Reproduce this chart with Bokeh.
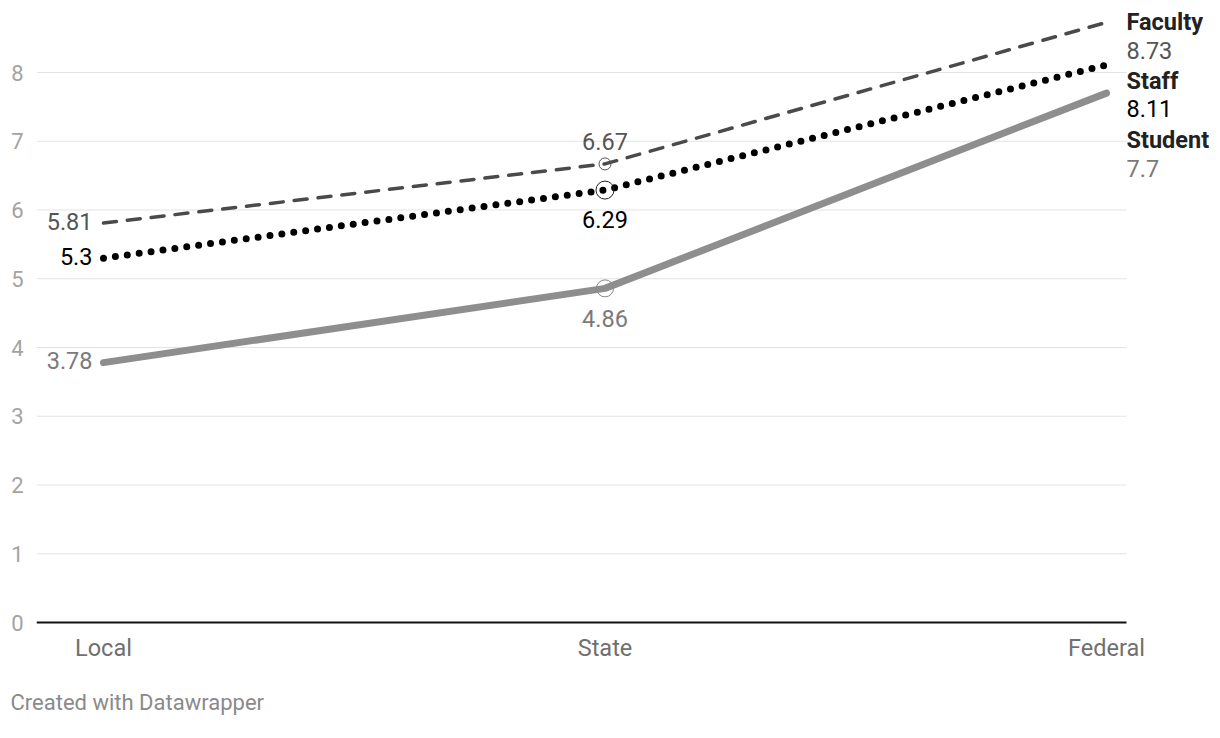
from bokeh.plotting import figure
from bokeh.models import Range1d, FixedTicker, Label, Title
from bokeh.embed import file_html
from bokeh.resources import INLINE

categories = ["Local", "State", "Federal"]
series_names = ["Faculty", "Staff", "Student"]
faculty = [5.81, 6.67, 8.73]
staff = [5.3, 6.29, 8.11]
student = [3.78, 4.86, 7.7]
y_ticks = [0, 1, 2, 3, 4, 5, 6, 7, 8]

xs = list(range(len(categories)))
FONT = "Roboto"

# layout constants (pixels)
W, H = 1220, 738
FRAME_L, FRAME_R, FRAME_T, FRAME_B = 36, W, 10, 624
X0_PX, PPU_X = 103, 501.5        # x=0 position, pixels per category
ZERO_PX, PPU_Y = 622, 68.75      # y=0 position, pixels per unit
GRID_END_PX = 1126

def px_to_x(px):
    return (px - X0_PX) / PPU_X

def px_to_y(py):
    return (ZERO_PX - py) / PPU_Y

x_start, x_end = px_to_x(FRAME_L), px_to_x(FRAME_R)
y_start, y_end = px_to_y(FRAME_B), px_to_y(FRAME_T)

p = figure(width=W, height=H, output_backend="svg", toolbar_location=None,
           x_range=Range1d(x_start, x_end), y_range=Range1d(y_start, y_end),
           min_border_left=FRAME_L, min_border_right=0, min_border_top=FRAME_T,
           min_border_bottom=H - FRAME_B)
p.outline_line_color = None
p.background_fill_color = "white"
p.border_fill_color = "white"

# axes
p.yaxis.ticker = FixedTicker(ticks=y_ticks)
p.yaxis.axis_line_color = None
p.yaxis.major_tick_line_color = None
p.yaxis.minor_tick_line_color = None
p.yaxis.major_label_text_color = "#a3a3a3"
p.yaxis.major_label_text_font = FONT
p.yaxis.major_label_text_font_size = "22px"
p.yaxis.major_label_standoff = 7

p.xaxis.ticker = FixedTicker(ticks=xs)
p.xaxis.major_label_overrides = {i: c for i, c in enumerate(categories)}
p.xaxis.axis_line_color = None
p.xaxis.major_tick_line_color = None
p.xaxis.minor_tick_line_color = None
p.xaxis.major_label_text_color = "#707070"
p.xaxis.major_label_text_font = FONT
p.xaxis.major_label_text_font_size = "23.5px"
p.xaxis.major_label_standoff = 3

p.xgrid.grid_line_color = None
p.ygrid.grid_line_color = None

# gridlines and baseline drawn as segments so that the frame can hold the right labels
grid_end = px_to_x(GRID_END_PX)
gy = [t for t in y_ticks if t != 0]
p.segment(x0=[x_start] * len(gy), y0=gy, x1=[grid_end] * len(gy), y1=gy,
          line_color="#e3e3e3", line_width=1)
p.segment(x0=[x_start], y0=[0], x1=[grid_end], y1=[0], line_color="#111111", line_width=2)

# lines
p.line(xs, student, line_color="#8e8e8e", line_width=7, line_cap="round", line_join="round")
p.line(xs, faculty, line_color="#4a4a4a", line_width=3.5, line_dash="13 11", line_cap="round")
p.line(xs, staff, line_color="#000000", line_width=7, line_dash="0 12", line_cap="round")

# hollow markers at State
p.scatter([xs[1]], [faculty[1]], size=12, fill_color=None, line_color="#555555", line_width=1)
p.scatter([xs[1]], [staff[1]], size=18, fill_color=None, line_color="#222222", line_width=1)
p.scatter([xs[1]], [student[1]], size=17, fill_color=None, line_color="#8a8a8a", line_width=1)

colors_txt = ["#555555", "#000000", "#7a7a7a"]
values = [faculty, staff, student]
LBL = "23.5px"

# Local value labels
for v, c in zip(values, colors_txt):
    p.add_layout(Label(x=xs[0], y=v[0], text=f"{v[0]:g}", x_offset=-11, y_offset=2,
                       text_align="right", text_baseline="middle", text_color=c,
                       text_font=FONT, text_font_size=LBL))

# State value labels (above for Faculty, below for the others)
state_offsets = [22, -29, -30]
for v, c, off in zip(values, colors_txt, state_offsets):
    p.add_layout(Label(x=xs[1], y=v[1], text=f"{v[1]:g}", y_offset=off,
                       text_align="center", text_baseline="middle", text_color=c,
                       text_font=FONT, text_font_size=LBL))

# Right-side series labels
name_offsets = [0, -16, -47]
for name, v, c, off in zip(series_names, values, colors_txt, name_offsets):
    p.add_layout(Label(x=xs[2], y=v[2], text=name, x_offset=20, y_offset=off,
                       text_align="left", text_baseline="middle", text_color="#222222",
                       text_font=FONT, text_font_style="bold", text_font_size=LBL))
    p.add_layout(Label(x=xs[2], y=v[2], text=f"{v[2]:g}", x_offset=20, y_offset=off - 28,
                       text_align="left", text_baseline="middle", text_color=c,
                       text_font=FONT, text_font_size=LBL))

# footer
p.add_layout(Title(text="Created with Datawrapper", align="left", offset=-26,
                   text_color="#8a8a8a", text_font=FONT, text_font_size="22px",
                   text_font_style="normal", standoff=46, text_line_height=0.6), "below")

open("out.html", "w").write(file_html(p, INLINE))
